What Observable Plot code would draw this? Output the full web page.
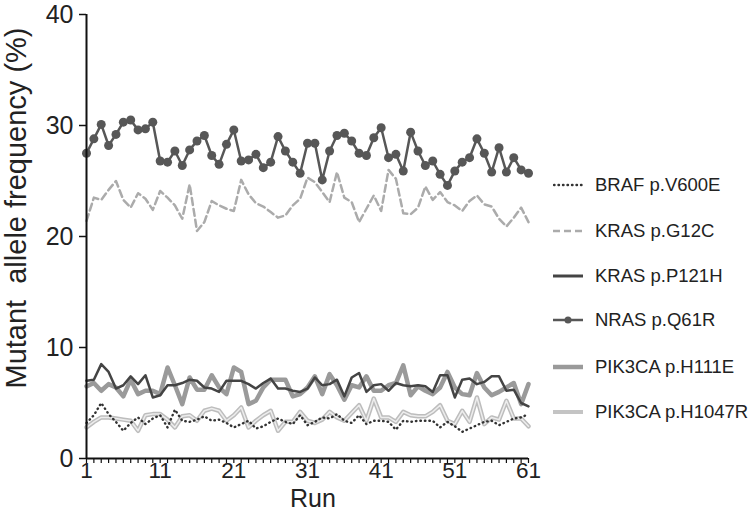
<!DOCTYPE html>
<html><head><meta charset="utf-8">
<script src="https://cdn.jsdelivr.net/npm/d3@7"></script>
<script src="https://cdn.jsdelivr.net/npm/@observablehq/plot@0.6"></script>
<style>
body{margin:0;background:#fff;font-family:"Liberation Sans",Arial,sans-serif;}
#wrap{position:relative;width:755px;height:530px;overflow:hidden;}
#ylabel{position:absolute;left:16px;top:208px;transform:translate(-50%,-50%) rotate(-90deg);font-size:29px;line-height:1;white-space:pre;color:#222;}
#xlabel{position:absolute;left:313px;top:497.5px;transform:translate(-50%,-50%);font-size:25px;line-height:1;color:#222;}
.row{position:absolute;left:553px;display:flex;align-items:center;height:30px;transform:translateY(-50%);font-size:18.5px;color:#222;white-space:nowrap;}
.row svg{margin-right:12px;}
</style></head>
<body><div id="wrap"></div>
<script>
const runs = Array.from({length: 61}, (_, i) => i + 1);
const xTickLabels = [1, 11, 21, 31, 41, 51, 61];
const yTicks = [0, 10, 20, 30, 40];
const seriesNames = ["BRAF p.V600E", "KRAS p.G12C", "KRAS p.P121H", "NRAS p.Q61R", "PIK3CA p.H111E", "PIK3CA p.H1047R"];

const braf = [3.2,3.9,5.0,4.0,3.3,2.5,3.2,3.7,3.1,3.6, 3.9,2.8,4.4,3.4,3.3,3.5,3.8,3.4,3.5,3.2, 2.8,3.1,3.4,2.7,2.9,3.3,3.6,3.3,3.1,3.9, 3.0,3.3,3.7,3.6,4.0,3.4,3.2,3.9,3.1,3.4, 3.4,3.3,2.6,3.4,3.3,3.4,3.4,3.4,2.8,3.3, 2.9,2.4,2.7,3.0,3.3,3.4,3.0,3.3,3.6,3.7,4.0];
const krasG12C = [21.4,23.5,23.3,24.2,25.0,23.3,22.6,23.9,23.4,22.4, 24.1,23.5,22.8,21.6,24.7,20.5,21.3,23.2,22.8,22.5, 22.3,25.1,23.8,23.0,22.7,22.2,21.7,21.9,22.8,23.4, 25.3,24.9,24.0,23.1,25.8,23.5,23.1,21.3,22.5,23.7, 22.3,26.0,25.2,22.1,22.0,22.6,24.5,23.3,24.0,23.1, 22.8,22.3,23.2,23.7,22.9,22.7,21.6,20.9,21.7,22.6,21.3];
const krasP121H = [7.0,7.1,8.5,7.8,6.3,6.6,7.4,6.7,7.5,5.5, 5.7,6.6,6.6,6.8,7.1,7.0,6.4,6.3,6.0,7.0, 7.0,7.0,6.7,6.3,6.8,7.2,6.3,6.3,6.1,6.0, 6.3,7.3,6.6,6.7,7.1,5.6,7.3,7.7,6.0,6.6, 6.7,6.1,6.8,6.6,6.5,6.6,6.5,6.0,7.5,7.5, 5.5,7.1,7.2,6.7,6.9,7.4,7.4,6.1,6.2,5.0,4.7];
const nrasQ61R = [27.5,28.8,30.1,28.2,29.2,30.3,30.5,29.6,29.7,30.3, 26.8,26.7,27.7,26.4,27.8,28.6,29.1,27.3,26.5,28.3, 29.6,26.8,26.9,27.4,26.2,26.7,29.0,27.7,26.7,25.7, 28.4,28.4,25.1,27.7,29.1,29.3,28.6,27.5,27.3,28.9, 29.8,27.1,27.4,25.9,29.4,27.7,26.4,26.8,25.6,24.6, 25.9,26.7,27.1,28.8,27.5,25.8,28.0,25.8,27.1,26.0,25.7];
const pik3caH111E = [6.5,6.8,6.1,6.7,6.4,5.6,7.1,5.8,6.1,6.1, 5.8,8.2,6.6,4.9,7.3,6.2,6.2,7.5,6.4,5.8, 8.2,7.8,4.9,5.2,6.4,7.1,7.1,7.1,5.6,5.8, 6.4,7.4,5.8,7.6,6.6,5.3,6.6,6.4,7.4,6.1, 6.1,6.6,6.8,8.4,5.7,6.5,6.1,5.8,6.4,7.8, 6.4,5.8,5.7,7.7,6.4,5.7,6.0,6.4,6.8,4.9,6.7];
const pik3caH1047R = [2.8,3.3,3.7,3.7,3.6,3.5,3.4,2.5,3.9,4.0, 4.0,3.5,2.8,3.8,3.9,3.4,4.3,4.5,4.3,3.4, 3.9,4.6,2.8,3.4,3.9,4.3,2.5,3.3,3.3,4.2, 3.4,3.2,3.5,4.2,3.7,3.4,4.1,4.8,3.4,5.4, 3.7,3.7,3.3,4.2,3.9,3.8,3.8,4.2,4.8,3.4, 3.1,4.3,3.3,5.5,3.1,3.7,3.5,5.2,3.6,3.6,2.9];

const rows = (vals) => vals.map((v, i) => ({run: runs[i], v}));
const font = '"Liberation Sans", Arial, sans-serif';

const chart = Plot.plot({
  width: 755, height: 530,
  marginLeft: 86, marginRight: 227, marginTop: 14, marginBottom: 72,
  style: {fontFamily: font, background: "white", color: "#222", overflow: "visible"},
  x: {domain: [1, 61]},
  y: {domain: [0, 40]},
  marks: [
    Plot.line(rows(pik3caH1047R), {x: "run", y: "v", stroke: "#bdbdbd", strokeWidth: 4.5}),
    Plot.line(rows(pik3caH1047R), {x: "run", y: "v", stroke: "#ededed", strokeWidth: 1.5}),
    Plot.line(rows(pik3caH111E), {x: "run", y: "v", stroke: "#9a9a9a", strokeWidth: 4.5}),
    Plot.line(rows(krasP121H), {x: "run", y: "v", stroke: "#444", strokeWidth: 2.5}),
    Plot.line(rows(braf), {x: "run", y: "v", stroke: "#333", strokeWidth: 2.4, strokeDasharray: "0.5 4", strokeLinecap: "round"}),
    Plot.line(rows(krasG12C), {x: "run", y: "v", stroke: "#ababab", strokeWidth: 2.5, strokeDasharray: "7 4"}),
    Plot.line(rows(nrasQ61R), {x: "run", y: "v", stroke: "#575757", strokeWidth: 2.5}),
    Plot.dot(rows(nrasQ61R), {x: "run", y: "v", r: 4.5, fill: "#575757"}),
    Plot.axisY({ticks: yTicks, tickSize: 7, tickPadding: 6, fontSize: 25, label: null, stroke: "#111", strokeWidth: 1.5}),
    Plot.axisX({ticks: runs, tickSize: 5, tickFormat: () => "", label: null, stroke: "#111", strokeWidth: 1.2}),
    Plot.axisX({ticks: xTickLabels, tickSize: 0, tickPadding: 4, fontSize: 22.5, label: null}),
    Plot.ruleX([1], {stroke: "#111", strokeWidth: 2}),
    Plot.ruleY([0], {stroke: "#111", strokeWidth: 2})
  ]
});

const wrap = document.getElementById("wrap");
wrap.appendChild(chart);

const yl = document.createElement("div");
yl.id = "ylabel"; yl.textContent = "Mutant  allele frequency (%)";
wrap.appendChild(yl);
const xl = document.createElement("div");
xl.id = "xlabel"; xl.textContent = "Run";
wrap.appendChild(xl);

const legendTops = [185, 231, 276, 320, 367, 412];
const swatches = [
  '<line x1="1" y1="6" x2="30" y2="6" stroke="#333" stroke-width="2.4" stroke-dasharray="0.5 4" stroke-linecap="round"/>',
  '<line x1="0" y1="6" x2="30" y2="6" stroke="#ababab" stroke-width="2.5" stroke-dasharray="7 4"/>',
  '<line x1="0" y1="6" x2="30" y2="6" stroke="#444" stroke-width="3"/>',
  '<line x1="0" y1="6" x2="30" y2="6" stroke="#575757" stroke-width="2.5"/><circle cx="15" cy="6" r="3.5" fill="#575757"/>',
  '<line x1="0" y1="6" x2="30" y2="6" stroke="#9a9a9a" stroke-width="4.5"/>',
  '<line x1="0" y1="6" x2="30" y2="6" stroke="#c4c4c4" stroke-width="4"/>'
];
seriesNames.forEach((name, i) => {
  const row = document.createElement("div");
  row.className = "row";
  row.style.top = legendTops[i] + "px";
  row.innerHTML = '<svg width="30" height="12">' + swatches[i] + '</svg><span>' + name + '</span>';
  wrap.appendChild(row);
});
</script>
</body></html>
